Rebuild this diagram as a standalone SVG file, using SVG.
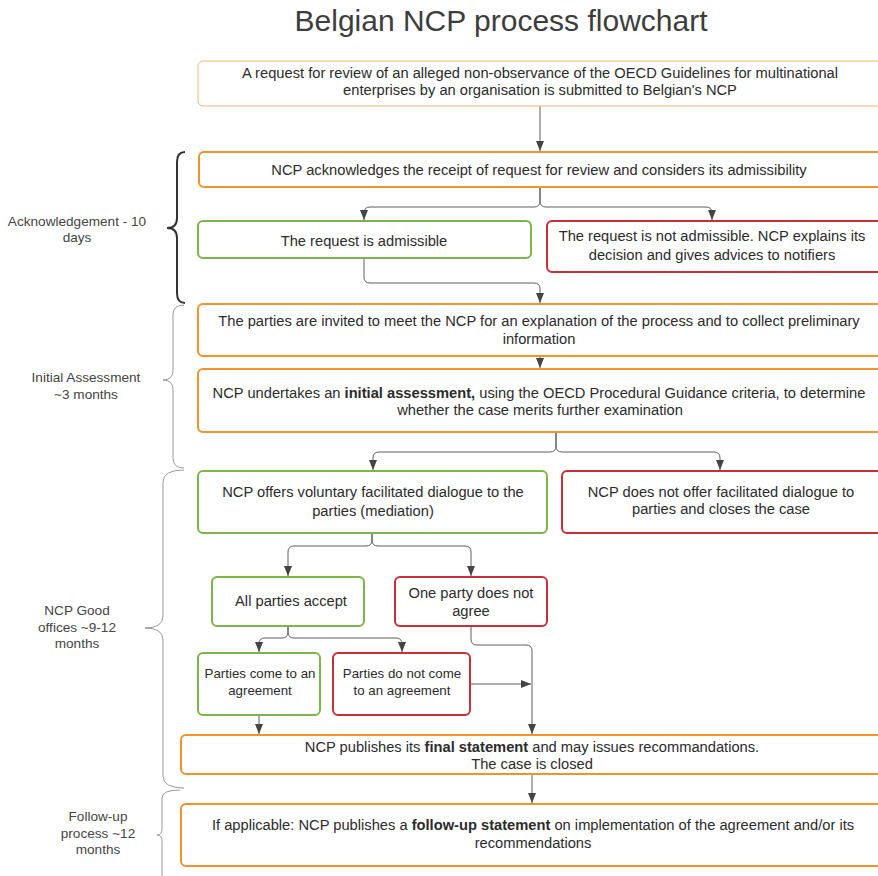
<svg xmlns="http://www.w3.org/2000/svg" width="878" height="876" viewBox="0 0 878 876">
<defs>
<style>
.bx{fill:#fff;stroke-width:2}
.or{stroke:#f0922e}
.gr{stroke:#7ab648}
.rd{stroke:#c92d39}
.t{font-family:"Liberation Sans",Arial,sans-serif;font-size:14.7px;fill:#2b2b2b;text-anchor:middle}
.sm{font-size:13.3px}
.lb{font-family:"Liberation Sans",Arial,sans-serif;font-size:13.6px;fill:#444;text-anchor:middle}
.c{fill:none;stroke:#5e5e5e;stroke-width:1}
.br{fill:none;stroke:#9a9a9a;stroke-width:1}
</style>
<marker id="ah" markerWidth="10" markerHeight="8" refX="10" refY="4" orient="auto" markerUnits="userSpaceOnUse"><path d="M0,0 L10,4 L0,8 z" fill="#444"/></marker>
</defs>
<rect width="878" height="876" fill="#fff"/>
<text x="501" y="31" font-family="Liberation Sans,Arial,sans-serif" font-size="30" fill="#3d3d3d" text-anchor="middle">Belgian NCP process flowchart</text>

<g id="braces">
<path d="M185,152 Q177,152 177,162 V218 Q177,228 167,228 Q177,228 177,238 V293 Q177,303 185,303" fill="none" stroke="#333" stroke-width="2"/>
<path class="br" d="M184,305 Q173,305 173,315 V370 Q173,380 163,380 Q173,380 173,390 V458 Q173,468 184,468"/>
<path class="br" d="M184,470 Q163,470 163,482 V616 Q163,628 145,628 Q163,628 163,640 V776 Q163,788 184,788"/>
<path class="br" d="M180,790 Q162,790 162,798 V829 Q162,835 157,835 Q162,835 162,841 V876"/>
<text class="lb"><tspan x="77" y="226">Acknowledgement - 10</tspan><tspan x="77" y="242">days</tspan></text>
<text class="lb"><tspan x="86" y="382">Initial Assessment</tspan><tspan x="86" y="399">~3 months</tspan></text>
<text class="lb"><tspan x="77" y="615">NCP Good</tspan><tspan x="77" y="632">offices ~9-12</tspan><tspan x="77" y="648">months</tspan></text>
<text class="lb"><tspan x="98" y="821">Follow-up</tspan><tspan x="98" y="838">process ~12</tspan><tspan x="98" y="854">months</tspan></text>
</g>

<g id="connectors">
<path class="c" d="M540,106 V151" marker-end="url(#ah)"/>
<path class="c" d="M540,187 V201 Q540,207 534,207 H370 Q364,207 364,213 V220" marker-end="url(#ah)"/>
<path class="c" d="M540,187 V201 Q540,207 546,207 H706 Q712,207 712,213 V220" marker-end="url(#ah)"/>
<path class="c" d="M364,258 V277 Q364,283 370,283 H534 Q540,283 540,289 V303" marker-end="url(#ah)"/>
<path class="c" d="M540,356 V368" marker-end="url(#ah)"/>
<path class="c" d="M556,432 V446 Q556,452 550,452 H379 Q373,452 373,458 V470" marker-end="url(#ah)"/>
<path class="c" d="M556,432 V446 Q556,452 562,452 H714 Q720,452 720,458 V470" marker-end="url(#ah)"/>
<path class="c" d="M372,533 V540 Q372,546 366,546 H294 Q288,546 288,552 V576" marker-end="url(#ah)"/>
<path class="c" d="M372,533 V540 Q372,546 378,546 H465 Q471,546 471,552 V576" marker-end="url(#ah)"/>
<path class="c" d="M288,626 V632 Q288,638 282,638 H265 Q259,638 259,644 V652" marker-end="url(#ah)"/>
<path class="c" d="M288,626 V632 Q288,638 294,638 H396 Q402,638 402,644 V652" marker-end="url(#ah)"/>
<path class="c" d="M471,626 V639 Q471,645 477,645 H526 Q532,645 532,651 V734" marker-end="url(#ah)"/>
<path class="c" d="M470,684 H531" marker-end="url(#ah)"/>
<path class="c" d="M259,715 V734" marker-end="url(#ah)"/>
<path class="c" d="M532,774 V803" marker-end="url(#ah)"/>
</g>

<g id="n1"><rect x="198" y="61" width="684" height="45" rx="5" fill="#fff" stroke="#f5b46e" stroke-width="1"/>
<text class="t" font-size="15.2"><tspan x="540" y="77.5">A request for review of an alleged non-observance of the OECD Guidelines for multinational</tspan><tspan x="540" y="94.5">enterprises by an organisation is submitted to Belgian's NCP</tspan></text></g>

<g id="n2"><rect class="bx or" x="199" y="152" width="684" height="35" rx="5"/>
<text class="t" x="539" y="174.5">NCP acknowledges the receipt of request for review and considers its admissibility</text></g>

<g id="n3"><rect class="bx gr" x="198" y="221" width="333" height="37" rx="5"/>
<text class="t" x="364" y="245.5">The request is admissible</text></g>

<g id="n4"><rect class="bx rd" x="547" y="221" width="336" height="51" rx="5"/>
<text class="t" font-size="14.5"><tspan x="712" y="240.5">The request is not admissible. NCP explains its</tspan><tspan x="712" y="259.5">decision and gives advices to notifiers</tspan></text></g>

<g id="n5"><rect class="bx or" x="198" y="304" width="685" height="52" rx="5"/>
<text class="t"><tspan x="539" y="325.5">The parties are invited to meet the NCP for an explanation of the process and to collect preliminary</tspan><tspan x="539" y="343.5">information</tspan></text></g>

<g id="n6"><rect class="bx or" x="198" y="369" width="685" height="63" rx="5"/>
<text class="t"><tspan x="539" y="397.5">NCP undertakes an <tspan font-weight="bold">initial assessment,</tspan> using the OECD Procedural Guidance criteria, to determine</tspan><tspan x="540" y="414.5">whether the case merits further examination</tspan></text></g>

<g id="n7"><rect class="bx gr" x="198" y="471" width="349" height="62" rx="5"/>
<text class="t"><tspan x="373" y="496.5">NCP offers voluntary facilitated dialogue to the</tspan><tspan x="373" y="515.5">parties (mediation)</tspan></text></g>

<g id="n8"><rect class="bx rd" x="562" y="471" width="321" height="62" rx="5"/>
<text class="t"><tspan x="721" y="496.5">NCP does not offer facilitated dialogue to</tspan><tspan x="721" y="513.5">parties and closes the case</tspan></text></g>

<g id="n9"><rect class="bx gr" x="212" y="577" width="152" height="49" rx="5"/>
<text class="t" x="291" y="605.5">All parties accept</text></g>

<g id="n10"><rect class="bx rd" x="395" y="577" width="152" height="49" rx="5"/>
<text class="t"><tspan x="471" y="597.5">One party does not</tspan><tspan x="471" y="616">agree</tspan></text></g>

<g id="n11"><rect class="bx gr" x="198" y="653" width="122" height="62" rx="5"/>
<text class="t sm"><tspan x="260" y="677.5">Parties come to an</tspan><tspan x="260" y="694.5">agreement</tspan></text></g>

<g id="n12"><rect class="bx rd" x="333" y="653" width="137" height="62" rx="5"/>
<text class="t sm"><tspan x="402" y="677.5">Parties do not come</tspan><tspan x="402" y="694.5">to an agreement</tspan></text></g>

<g id="n13"><rect class="bx or" x="181" y="735" width="702" height="39" rx="5"/>
<text class="t"><tspan x="532" y="751.5">NCP publishes its <tspan font-weight="bold">final statement</tspan> and may issues recommandations.</tspan><tspan x="532" y="768.5">The case is closed</tspan></text></g>

<g id="n14"><rect class="bx or" x="181" y="804" width="702" height="62" rx="5"/>
<text class="t"><tspan x="533" y="829.5">If applicable: NCP publishes a <tspan font-weight="bold">follow-up statement</tspan> on implementation of the agreement and/or its</tspan><tspan x="533" y="847.5">recommendations</tspan></text></g>
</svg>
